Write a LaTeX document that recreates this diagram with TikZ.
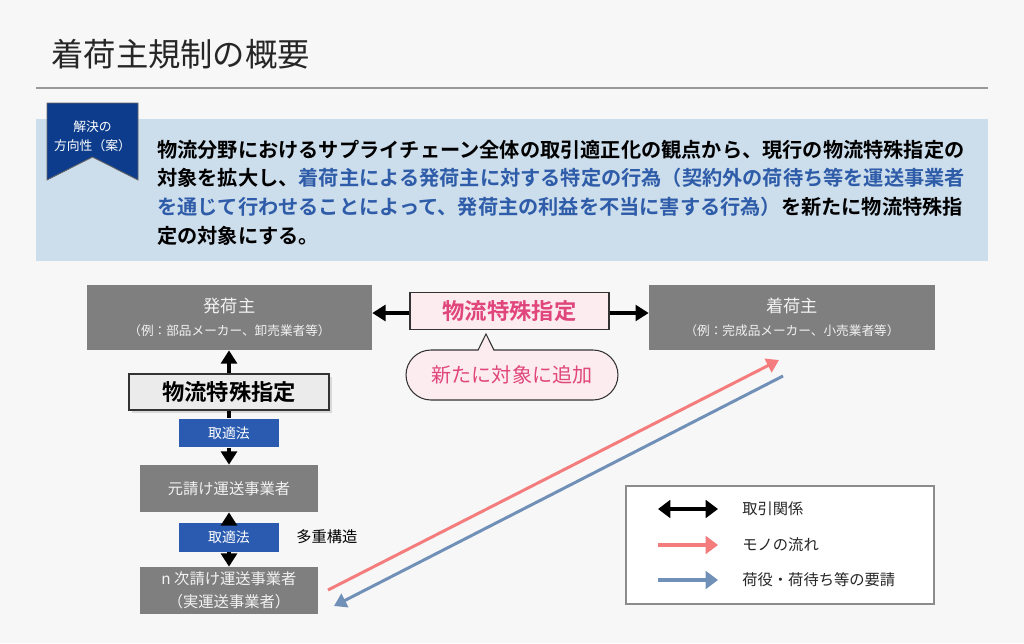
\documentclass[tikz,border=0pt]{standalone}
\usepackage{fontspec}
\setmainfont{Noto Sans CJK JP}[BoldFont={Noto Sans CJK JP Bold}]
\usetikzlibrary{positioning,arrows.meta,calc,shapes.misc,shadows}

\definecolor{bgc}{HTML}{F7F7F7}
\definecolor{bandblue}{HTML}{CCDDEC}
\definecolor{badgeblue}{HTML}{0E3C8C}
\definecolor{textblue}{HTML}{2E5CA8}
\definecolor{boxgray}{HTML}{7F7F7F}
\definecolor{boxtext}{HTML}{F2F2F2}
\definecolor{lawblue}{HTML}{2A5BB0}
\definecolor{specpink}{HTML}{E0457B}
\definecolor{pinkfill}{HTML}{FCECEF}
\definecolor{goodsred}{HTML}{F47C7C}
\definecolor{reqblue}{HTML}{7090B8}

\begin{document}
\begin{tikzpicture}[
  x=0.02cm, y=-0.02cm,
  font=\fontsize{8.7}{11}\selectfont,
  party/.style={fill=boxgray, text=boxtext, minimum width=5.7cm, minimum height=1.3cm, align=center, inner sep=0pt, font=\fontsize{9.8}{12}\selectfont},
  carrier/.style={fill=boxgray, text=boxtext, minimum width=3.56cm, minimum height=0.94cm, align=center, inner sep=0pt},
  law/.style={fill=lawblue, text=white, minimum width=2cm, minimum height=0.57cm, inner sep=0pt, font=\fontsize{7.9}{9}\selectfont},
  spec/.style={draw=black!80, line width=0.7pt, minimum height=0.75cm, inner sep=0pt, font=\fontsize{12.7}{14}\selectfont\bfseries},
  deal/.style={line width=1.8pt, -{Triangle[width=9pt,length=7.5pt]}},
  goods/.style={draw=goodsred, line width=1.7pt, -{Triangle[width=8.5pt,length=7pt]}},
  req/.style={draw=reqblue, line width=1.7pt, -{Triangle[width=8.5pt,length=7pt]}}
]
\path[use as bounding box, fill=bgc] (0,0) rectangle (1024,643);

% header
\node[anchor=west, inner sep=0pt, text=black!85, font=\fontsize{18.4}{22}\selectfont] (title) at (51,54) {着荷主規制の概要};
\draw[black!40, line width=0.9pt] (36,88) -- (988,88);
\fill[bandblue] (36,119) rectangle (988,261);
\draw[fill=badgeblue, draw=black!60, line width=0.5pt] (47,103) -- (138,103) -- (138,180) -- (92.5,157) -- (47,180) -- cycle;
\node[text=white, align=center, inner sep=0pt, font=\fontsize{7.3}{10.5}\selectfont] (badge) at (92.5,136) {解決の\\方向性（案）};
\node[anchor=north west, inner sep=0pt, align=left, font=\fontsize{11.5}{16.4}\selectfont\bfseries] (lead) at (157,139.5) {%
物流分野におけるサプライチェーン全体の取引適正化の観点から、現行の物流特殊指定の\\
対象を拡大し、{\color{textblue}着荷主による発荷主に対する特定の行為（契約外の荷待ち等を運送事業者}\\
{\color{textblue}を通じて行わせることによって、発荷主の利益を不当に害する行為）}を新たに物流特殊指\\
定の対象にする。};

% parties
\node[party] (hatsu) at (229.5,317.5) {発荷主\\[1pt]{\fontsize{7.2}{9}\selectfont（例：部品メーカー、卸売業者等）}};
\node[party, minimum width=5.72cm] (chaku) at (792,317.5) {着荷主\\[1pt]{\fontsize{7.2}{9}\selectfont（例：完成品メーカー、小売業者等）}};
\node[spec, fill=pinkfill, text=specpink, minimum width=3.98cm] (newspec) at (509.5,311) {物流特殊指定};
\node[draw=black!80, line width=0.6pt, fill=pinkfill, text=specpink, rounded rectangle, minimum width=4.24cm, minimum height=1cm, inner sep=0pt, font=\fontsize{11.4}{13}\selectfont] (added) at (512,375) {新たに対象に追加};
\coordinate (tip) at (486,334);
\fill[pinkfill] (478,351.5) -- (tip) -- (494,351.5) -- cycle;
\draw[black!80, line width=0.6pt] (478,350.2) -- (tip) -- (494,350.2);

\draw[deal] (newspec.west |- 0,313) -- (hatsu.east |- 0,313);
\draw[deal] (newspec.east |- 0,313) -- (chaku.west |- 0,313);

% carriers
\node[spec, fill=black!8, text=black, minimum width=4cm, minimum height=0.72cm, drop shadow={shadow xshift=1.5pt, shadow yshift=-1.5pt, opacity=0.25}] (rule) at (229,392) {物流特殊指定};
\node[law] (law1) at (229,433) {取適法};
\node[carrier] (moto) at (229,488.5) {元請け運送事業者};
\node[law, minimum height=0.58cm] (law2) at (229,537.5) {取適法};
\node[carrier, font=\fontsize{8.7}{13}\selectfont] (nji) at (229,590.5) {n 次請け運送事業者\\（実運送事業者）};
\node[anchor=west, inner sep=0pt] (multi) at (296,537) {多重構造};

\draw[deal] (rule.north) -- (rule.north |- hatsu.south);
\draw[line width=1.8pt] (rule.south) -- (law1.north);
\draw[deal] (law1.south) -- (moto.north);
\draw[deal] (law2.north) -- (moto.south);
\draw[deal] (law2.south) -- (nji.north);

% flows
\coordinate (gs) at (328,590);
\coordinate (ge) at (779,360);
\coordinate (rs) at (783,376);
\coordinate (re) at (334,606);
\draw[goods] (gs) -- (ge);
\draw[req] (rs) -- (re);

% legend
\node[draw=black!45, line width=0.8pt, fill=white, minimum width=6.16cm, minimum height=2.36cm] (legend) at (780,545) {};
\coordinate (l1a) at (658,509); \coordinate (l1b) at (718,509);
\coordinate (l2a) at (658,545); \coordinate (l2b) at (718,545);
\coordinate (l3a) at (658,580); \coordinate (l3b) at (718,580);
\draw[line width=2.3pt, {Triangle[width=10pt,length=7pt]}-{Triangle[width=10pt,length=7pt]}] (l1a) -- (l1b);
\draw[draw=goodsred, line width=2.3pt, -{Triangle[width=10pt,length=7pt]}, goodsred] (l2a) -- (l2b);
\draw[draw=reqblue, line width=2.3pt, -{Triangle[width=10pt,length=7pt]}, reqblue] (l3a) -- (l3b);
\node[anchor=west, inner sep=0pt, text=black!85] (lg1) at (742,509) {取引関係};
\node[anchor=west, inner sep=0pt, text=black!85] (lg2) at (742,545) {モノの流れ};
\node[anchor=west, inner sep=0pt, text=black!85] (lg3) at (742,580) {荷役・荷待ち等の要請};
\end{tikzpicture}
\end{document}
